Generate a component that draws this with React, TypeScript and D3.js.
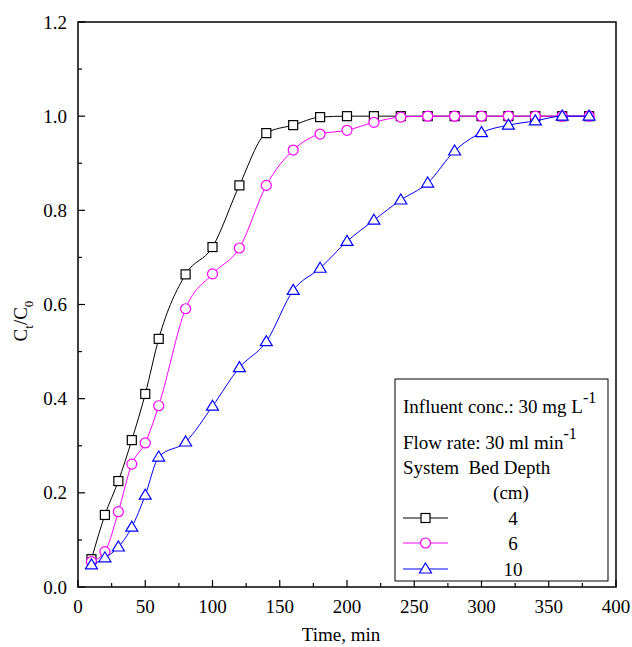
import React, { useRef, useEffect } from "react";
import * as d3 from "d3";

const times = [10, 20, 30, 40, 50, 60, 80, 100, 120, 140, 160, 180, 200, 220, 240, 260, 280, 300, 320, 340, 360, 380];
const depth4 = [0.059, 0.153, 0.225, 0.312, 0.41, 0.527, 0.664, 0.722, 0.853, 0.964, 0.981, 0.998, 1.0, 1.0, 1.0, 1.0, 1.0, 1.0, 1.0, 1.0, 1.0, 1.0];
const depth6 = [0.054, 0.075, 0.16, 0.261, 0.306, 0.385, 0.591, 0.665, 0.72, 0.853, 0.928, 0.962, 0.97, 0.987, 0.998, 1.0, 1.0, 1.0, 1.0, 1.0, 1.0, 1.0];
const depth10 = [0.047, 0.062, 0.085, 0.127, 0.195, 0.276, 0.308, 0.384, 0.466, 0.521, 0.63, 0.677, 0.734, 0.779, 0.822, 0.858, 0.926, 0.965, 0.981, 0.99, 1.0, 1.0];
const seriesLabels = ["4", "6", "10"];
const xTicks = [0, 50, 100, 150, 200, 250, 300, 350, 400];
const yTicks = [0, 0.2, 0.4, 0.6, 0.8, 1.0, 1.2];

const App = () => {
  const ref = useRef<HTMLDivElement>(null);

  useEffect(() => {
    const width = 632;
    const height = 647;
    const marginLeft = 78;
    const marginRight = 16;
    const marginTop = 22;
    const marginBottom = 60;
    const fs = 19;

    const x = d3.scaleLinear().domain([0, 400]).range([marginLeft, width - marginRight]);
    const y = d3.scaleLinear().domain([0, 1.2]).range([height - marginBottom, marginTop]);

    const svg = d3.create("svg")
      .attr("width", width)
      .attr("height", height)
      .attr("viewBox", [0, 0, width, height])
      .style("font-family", "'Liberation Serif', 'Times New Roman', serif")
      .style("display", "block");

    svg.append("rect").attr("width", width).attr("height", height).attr("fill", "white");

    // frame
    svg.append("rect")
      .attr("x", x(0)).attr("y", y(1.2))
      .attr("width", x(400) - x(0)).attr("height", y(0) - y(1.2))
      .attr("fill", "none").attr("stroke", "black").attr("stroke-width", 1.5);

    // x ticks
    const xAxis = svg.append("g").attr("transform", `translate(0,${y(0)})`);
    d3.range(0, 401, 25).forEach(v => {
      const major = v % 50 === 0;
      xAxis.append("line").attr("x1", x(v)).attr("x2", x(v)).attr("y1", 0).attr("y2", major ? -7 : -4)
        .attr("stroke", "black").attr("stroke-width", 1.2);
    });
    xTicks.forEach(v => {
      xAxis.append("text").attr("x", x(v)).attr("y", 26).attr("text-anchor", "middle")
        .attr("font-size", fs).text(v);
    });

    const yAxis = svg.append("g").attr("transform", `translate(${x(0)},0)`);
    d3.range(0, 13).forEach(i => {
      const v = i / 10;
      const major = i % 2 === 0;
      yAxis.append("line").attr("x1", 0).attr("x2", major ? 7 : 4).attr("y1", y(v)).attr("y2", y(v))
        .attr("stroke", "black").attr("stroke-width", 1.2);
    });
    yTicks.forEach(v => {
      yAxis.append("text").attr("x", -11).attr("y", y(v)).attr("dy", "0.35em").attr("text-anchor", "end")
        .attr("font-size", fs).text(v.toFixed(1));
    });

    // axis titles
    svg.append("text").attr("x", 341).attr("y", 641).attr("text-anchor", "middle")
      .attr("font-size", fs).text("Time, min");
    const yt = svg.append("text").attr("transform", `translate(27,321) rotate(-90)`)
      .attr("text-anchor", "middle").attr("font-size", fs);
    yt.append("tspan").text("C");
    yt.append("tspan").attr("font-size", 13).attr("dy", 6).text("t");
    yt.append("tspan").attr("dy", -6).text("/C");
    yt.append("tspan").attr("font-size", 13).attr("dy", 6).text("0");

    const colors = ["#000000", "#ff00ff", "#0000ff"];
    const allSeries = [depth4, depth6, depth10];
    const line = d3.line<[number, number]>().x(d => x(d[0])).y(d => y(d[1])).curve(d3.curveMonotoneX);

    const drawMarker = (g: any, i: number, cx: number, cy: number) => {
      if (i === 0) {
        g.append("rect").attr("x", cx - 4.5).attr("y", cy - 4.5).attr("width", 9).attr("height", 9)
          .attr("fill", "white").attr("stroke", colors[i]).attr("stroke-width", 1.2);
      } else if (i === 1) {
        g.append("circle").attr("cx", cx).attr("cy", cy).attr("r", 5)
          .attr("fill", "white").attr("stroke", colors[i]).attr("stroke-width", 1.2);
      } else {
        g.append("path").attr("d", `M${cx},${cy - 6}L${cx + 6},${cy + 4}L${cx - 6},${cy + 4}Z`)
          .attr("fill", "white").attr("stroke", colors[i]).attr("stroke-width", 1.2);
      }
    };

    allSeries.forEach((vals, i) => {
      const pts = times.map((t, j) => [t, vals[j]] as [number, number]);
      svg.append("path").attr("d", line(pts)).attr("fill", "none")
        .attr("stroke", colors[i]).attr("stroke-width", 1);
      const g = svg.append("g");
      pts.forEach(p => drawMarker(g, i, x(p[0]), y(p[1])));
    });

    // legend box
    const lg = svg.append("g");
    lg.append("rect").attr("x", 395).attr("y", 379).attr("width", 213).attr("height", 202)
      .attr("fill", "white").attr("stroke", "black").attr("stroke-width", 1);
    const t1 = lg.append("text").attr("x", 403).attr("y", 413).attr("font-size", fs);
    t1.append("tspan").text("Influent conc.: 30 mg L");
    t1.append("tspan").attr("dy", -10).attr("font-size", 16).text("-1");
    const t2 = lg.append("text").attr("x", 403).attr("y", 449).attr("font-size", fs);
    t2.append("tspan").text("Flow rate: 30 ml min");
    t2.append("tspan").attr("dy", -10).attr("font-size", 16).text("-1");
    lg.append("text").attr("x", 403).attr("y", 474).attr("font-size", fs).style("white-space", "pre")
      .text("System  Bed Depth");
    lg.append("text").attr("x", 511).attr("y", 499).attr("font-size", fs).attr("text-anchor", "middle").text("(cm)");
    const rowY = [518, 543, 569];
    seriesLabels.forEach((lab, i) => {
      lg.append("line").attr("x1", 403).attr("x2", 448).attr("y1", rowY[i]).attr("y2", rowY[i])
        .attr("stroke", colors[i]).attr("stroke-width", 1);
      drawMarker(lg, i, 425.5, rowY[i]);
      lg.append("text").attr("x", 513).attr("y", rowY[i] + 6.5).attr("text-anchor", "middle")
        .attr("font-size", fs).text(lab);
    });

    ref.current!.innerHTML = "";
    ref.current!.appendChild(svg.node()!);
  }, []);

  return <div ref={ref} style={{ position: "absolute", left: 0, top: 0 }} />;
};

export default App;
